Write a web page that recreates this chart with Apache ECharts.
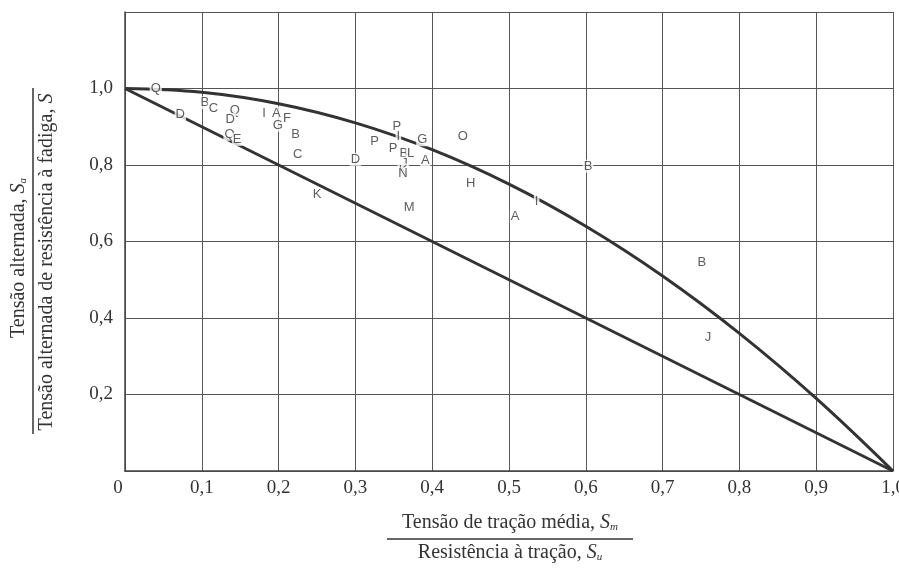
<!DOCTYPE html>
<html>
<head>
<meta charset="utf-8">
<script src="https://cdn.jsdelivr.net/npm/echarts@6/dist/echarts.min.js"></script>
<style>html,body{margin:0;padding:0;background:#fff}#c{width:899px;height:568px}</style>
</head>
<body>
<div id="c"></div>
<script>
// Tick labels
const xTickLabels = ['0','0,1','0,2','0,3','0,4','0,5','0,6','0,7','0,8','0,9','1,0'];
const yTickLabels = ['','0,2','0,4','0,6','0,8','1,0',''];

// Goodman line (straight)
const goodmanX = [0, 1.0];
const goodmanY = [1.0, 0];

// Gerber curve
const gerberX = [0, 0.1, 0.2, 0.3, 0.4, 0.5, 0.6, 0.7, 0.8, 0.9, 1.0];
const gerberY = [1.0, 0.99, 0.96, 0.91, 0.84, 0.75, 0.64, 0.51, 0.36, 0.19, 0];

// Test points (letters)
const pointLabels = ['Q','B','C','D','Q','D','Q','E','I','A','F','G','B','C','K','D','P','P','I','P','B','L','J','K','N','G','O','A','H','M','A','I','B','B','J'];
const pointX = [0.04,0.104,0.115,0.072,0.143,0.137,0.136,0.146,0.181,0.197,0.211,0.199,0.222,0.225,0.25,0.30,0.325,0.354,0.356,0.349,0.363,0.372,0.364,0.362,0.362,0.387,0.44,0.391,0.45,0.37,0.508,0.536,0.603,0.751,0.759];
const pointY = [1.0,0.963,0.947,0.933,0.943,0.919,0.88,0.867,0.936,0.936,0.923,0.904,0.881,0.827,0.722,0.815,0.862,0.902,0.876,0.844,0.829,0.829,0.805,0.787,0.777,0.866,0.875,0.811,0.752,0.688,0.665,0.704,0.797,0.546,0.348];

const chart = echarts.init(document.getElementById('c'), null, {renderer:'canvas'});
const serif = 'Liberation Serif';
const ink = '#333';

const pts = pointLabels.map((n,i)=>({name:n, value:[pointX[i], pointY[i]]}));

const richBase = {
  t:{fontFamily:serif, fontSize:20, fill:ink},
  s:{fontFamily:serif, fontSize:20, fontStyle:'italic', fill:ink},
  sub:{fontFamily:serif, fontSize:11, fontStyle:'italic', fill:ink, verticalAlign:'bottom', padding:[9,0,0,0]}
};

chart.setOption({
  animation:false,
  backgroundColor:'#fff',
  grid:{left:125, right:6, top:12, bottom:97, containLabel:false, outerBoundsMode:'none'},
  xAxis:{
    type:'value', min:0, max:1, interval:0.1,
    axisLine:{show:true, onZero:false, lineStyle:{color:'#444', width:1.5}},
    axisTick:{show:false},
    splitLine:{show:true, lineStyle:{color:'#555', width:1}},
    axisLabel:{
      margin:8, color:ink, fontFamily:serif, fontSize:19,
      formatter:(v)=>{const i=Math.round(v*10); return i===0 ? '{z|'+xTickLabels[0]+'}' : (xTickLabels[i] ?? '');},
      rich:{z:{fontFamily:serif, fontSize:19, color:ink, padding:[0,14,0,0]}}
    }
  },
  yAxis:{
    type:'value', min:0, max:1.2, interval:0.2,
    axisLine:{show:true, lineStyle:{color:'#444', width:1.5}},
    axisTick:{show:false},
    splitLine:{show:true, lineStyle:{color:'#555', width:1}},
    axisLabel:{
      margin:12, color:ink, fontFamily:serif, fontSize:19,
      formatter:(v)=>yTickLabels[Math.round(v*5)] ?? ''
    }
  },
  series:[
    {
      type:'line', z:3, symbol:'none',
      data:goodmanX.map((x,i)=>[x, goodmanY[i]]),
      lineStyle:{color:'#333', width:3}
    },
    {
      type:'line', z:3, symbol:'none', smooth:0.4,
      data:gerberX.map((x,i)=>[x, gerberY[i]]),
      lineStyle:{color:'#333', width:3}
    },
    {
      type:'scatter', z:6, symbolSize:1, itemStyle:{color:'rgba(0,0,0,0)'},
      data:pts,
      label:{
        show:true, position:'inside', formatter:'{b}',
        fontFamily:'Liberation Sans', fontSize:13, color:'#333',
        backgroundColor:'#fff', padding:[0,1]
      }
    }
  ],
  graphic:[
    {type:'text', x:510, y:523, style:{
      text:'{t|Tensão de tração média, }{s|S}{sub|m}', align:'center', verticalAlign:'middle', rich:richBase
    }},
    {type:'line', shape:{x1:387, y1:539, x2:633, y2:539}, style:{stroke:'#333', lineWidth:1.5}},
    {type:'text', x:510, y:553, style:{
      text:'{t|Resistência à tração, }{s|S}{sub|u}', align:'center', verticalAlign:'middle', rich:richBase
    }},
    {type:'text', x:19, y:258, rotation:Math.PI/2, style:{
      text:'{t|Tensão alternada, }{s|S}{sub|a}', align:'center', verticalAlign:'middle', rich:richBase
    }},
    {type:'line', shape:{x1:33, y1:88, x2:33, y2:434}, style:{stroke:'#333', lineWidth:1.5}},
    {type:'text', x:47, y:262, rotation:Math.PI/2, style:{
      text:'{t|Tensão alternada de resistência à fadiga, }{s|S}', align:'center', verticalAlign:'middle', rich:richBase
    }}
  ]
});
</script>
</body>
</html>
